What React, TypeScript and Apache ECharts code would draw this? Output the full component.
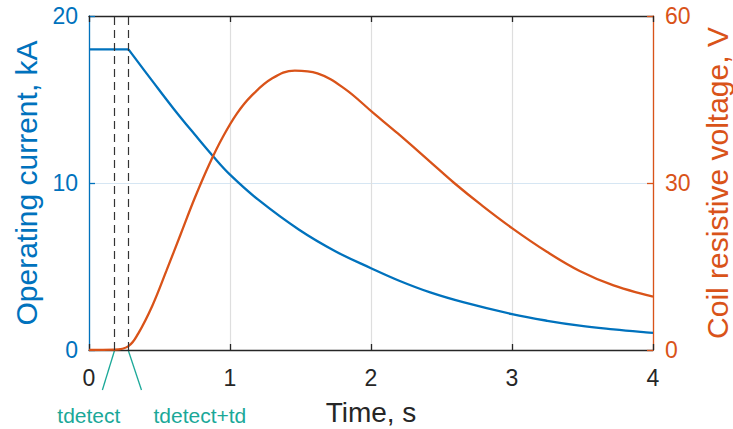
import React, { useEffect, useRef } from "react";
import * as echarts from "echarts";

const currentT = [0, 0.28, 0.45, 0.6, 0.75, 0.88, 1.0, 1.2, 1.49, 1.75, 2.0, 2.2, 2.42, 2.66, 3.0, 3.25, 3.48, 3.72, 3.95, 4.0];
const currentKA = [18, 18, 16.1, 14.45, 12.9, 11.6, 10.5, 9.0, 7.2, 5.9, 4.9, 4.15, 3.45, 2.85, 2.15, 1.75, 1.46, 1.24, 1.06, 1.03];

const voltageT = [0, 0.18, 0.28, 0.35, 0.45, 0.55, 0.65, 0.75, 0.85, 0.95, 1.05, 1.15, 1.3, 1.46, 1.62, 1.81, 2.02, 2.19, 2.42, 2.59, 2.78, 3.0, 3.25, 3.48, 3.72, 3.95, 4.0];
const voltageV = [0, 0.05, 0.7, 3.0, 8.0, 14.3, 20.8, 27.3, 33.2, 38.3, 42.5, 45.6, 48.8, 50.2, 49.7, 47.0, 42.5, 38.9, 33.8, 30.0, 26.1, 21.9, 17.6, 14.2, 11.6, 9.9, 9.6];

const xTicks = [0, 1, 2, 3, 4];
const currentTicks = [0, 10, 20];
const voltageTicks = [0, 30, 60];

const tDetect = 0.18;
const tDetectPlusTd = 0.28;
const markerLabels = ["tdetect", "tdetect+td"];

const BLUE = "#0072BD";
const ORANGE = "#D95319";
const DARK = "#262626";
const TEAL = "#1aa898";
const FONT = "'Liberation Sans', Arial, Helvetica, sans-serif";

export default function App() {
  const ref = useRef<HTMLDivElement>(null);
  useEffect(() => {
    if (!ref.current) return;
    const chart = echarts.init(ref.current, undefined, { renderer: "svg" });
    const currentPairs = currentT.map((t, i) => [t, currentKA[i]]);
    const breakIdx = currentT.indexOf(tDetectPlusTd);
    const option: any = {
      animation: false,
      backgroundColor: "#ffffff",
      textStyle: { fontFamily: FONT },
      grid: { left: 89, right: 80, top: 16, bottom: 79, containLabel: false, outerBoundsMode: "none" },
      xAxis: [
        {
          type: "value",
          min: xTicks[0],
          max: xTicks[xTicks.length - 1],
          interval: 1,
          position: "bottom",
          name: "Time, s",
          nameLocation: "middle",
          nameGap: 48,
          nameTextStyle: { color: DARK, fontSize: 28, fontFamily: FONT },
          axisLine: { show: true, onZero: false, lineStyle: { color: DARK, width: 1.3 } },
          axisTick: { show: true, inside: true, length: 6, lineStyle: { color: DARK, width: 1.3 } },
          axisLabel: { color: DARK, fontSize: 23, margin: 16, fontFamily: FONT },
          splitLine: { show: true, lineStyle: { color: "#dedede", width: 1.2 } },
        },
        {
          type: "value",
          min: xTicks[0],
          max: xTicks[xTicks.length - 1],
          interval: 1,
          position: "top",
          axisLine: { show: true, onZero: false, lineStyle: { color: DARK, width: 1.3 } },
          axisTick: { show: true, inside: true, length: 6, lineStyle: { color: DARK, width: 1.3 } },
          axisLabel: { show: false },
          splitLine: { show: false },
        },
      ],
      yAxis: [
        {
          type: "value",
          min: currentTicks[0],
          max: currentTicks[currentTicks.length - 1],
          interval: 10,
          position: "left",
          name: "Operating current, kA",
          nameLocation: "middle",
          nameRotate: 90,
          nameGap: 46,
          nameTextStyle: { color: BLUE, fontSize: 30, fontFamily: FONT },
          axisLine: { show: true, onZero: false, lineStyle: { color: BLUE, width: 1.3 } },
          axisTick: { show: true, inside: true, length: 6, lineStyle: { color: BLUE, width: 1.3 } },
          axisLabel: { color: BLUE, fontSize: 23, margin: 11, fontFamily: FONT },
          splitLine: { show: true, lineStyle: { color: "#d6e6f3", width: 1.2 } },
        },
        {
          type: "value",
          min: voltageTicks[0],
          max: voltageTicks[voltageTicks.length - 1],
          interval: 30,
          position: "right",
          name: "Coil resistive voltage, V",
          nameLocation: "middle",
          nameRotate: 90,
          nameGap: 49,
          nameTextStyle: { color: ORANGE, fontSize: 30, fontFamily: FONT },
          axisLine: { show: true, onZero: false, lineStyle: { color: ORANGE, width: 1.3 } },
          axisTick: { show: true, inside: true, length: 6, lineStyle: { color: ORANGE, width: 1.3 } },
          axisLabel: { color: ORANGE, fontSize: 23, margin: 12, fontFamily: FONT },
          splitLine: { show: false },
        },
      ],
      series: [
        {
          name: "Current",
          type: "line",
          xAxisIndex: 0,
          yAxisIndex: 0,
          data: currentPairs.slice(0, breakIdx + 1),
          showSymbol: false,
          smooth: false,
          lineStyle: { color: BLUE, width: 2.3 },
          z: 3,
          markLine: {
            silent: true,
            symbol: ["none", "none"],
            label: { show: false },
            lineStyle: { color: "#333333", type: [8, 5], width: 1.2 },
            data: [{ xAxis: tDetect }, { xAxis: tDetectPlusTd }],
          },
        },
        {
          name: "Current",
          type: "line",
          xAxisIndex: 0,
          yAxisIndex: 0,
          data: currentPairs.slice(breakIdx),
          showSymbol: false,
          smooth: 0.4,
          lineStyle: { color: BLUE, width: 2.3 },
          z: 3,
        },
        {
          name: "Voltage",
          type: "line",
          xAxisIndex: 0,
          yAxisIndex: 1,
          data: voltageT.map((t, i) => [t, voltageV[i]]),
          showSymbol: false,
          smooth: 0.4,
          lineStyle: { color: ORANGE, width: 2.3 },
          z: 4,
        },
      ],
    };
    chart.setOption(option);

    const p1 = chart.convertToPixel({ xAxisIndex: 0, yAxisIndex: 0 }, [tDetect, 0]) as number[];
    const p2 = chart.convertToPixel({ xAxisIndex: 0, yAxisIndex: 0 }, [tDetectPlusTd, 0]) as number[];
    chart.setOption({
      graphic: [
        {
          type: "line",
          shape: { x1: p1[0], y1: p1[1] + 1, x2: p1[0] - 12, y2: p1[1] + 40 },
          style: { stroke: TEAL, lineWidth: 1.3 },
          silent: true,
        },
        {
          type: "line",
          shape: { x1: p2[0], y1: p2[1] + 1, x2: p2[0] + 13, y2: p2[1] + 40 },
          style: { stroke: TEAL, lineWidth: 1.3 },
          silent: true,
        },
        {
          type: "text",
          x: p1[0] + 6,
          y: p1[1] + 65,
          style: {
            text: markerLabels[0],
            fill: TEAL,
            font: `21px ${FONT}`,
            textAlign: "right",
            textVerticalAlign: "middle",
          },
        },
        {
          type: "text",
          x: p2[0] + 25,
          y: p2[1] + 65,
          style: {
            text: markerLabels[1],
            fill: TEAL,
            font: `21px ${FONT}`,
            textAlign: "left",
            textVerticalAlign: "middle",
          },
        },
      ],
    });

    return () => chart.dispose();
  }, []);

  return (
    <div
      ref={ref}
      style={{ position: "fixed", left: 0, top: 0, width: 733, height: 429, background: "#fff" }}
    />
  );
}
